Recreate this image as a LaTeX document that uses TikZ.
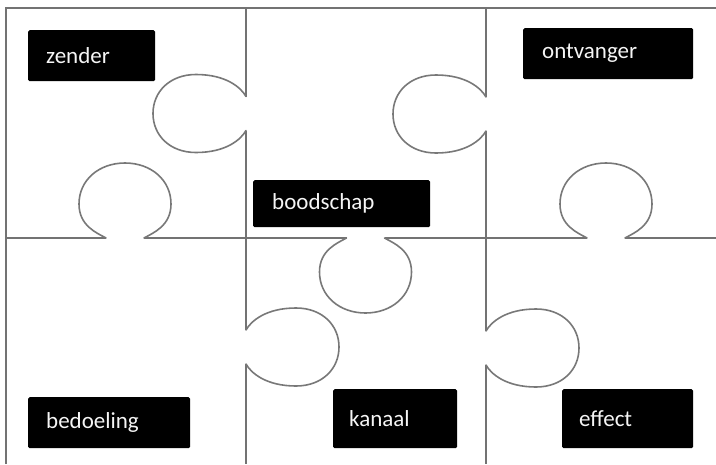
\documentclass[tikz,border=0pt]{standalone}
\usepackage{fontspec}
\setmainfont{Carlito}
\definecolor{edgegray}{RGB}{115,115,115}
\definecolor{knobgray}{RGB}{120,120,120}
\definecolor{lbltext}{RGB}{245,245,245}
\tikzset{
  frameline/.style={draw=edgegray, line width=1.8pt},
  knobline/.style={draw=knobgray, line width=1.6pt, line cap=round, line join=round},
  lbl/.style={fill=black, text=lbltext, rounded corners=1.5pt, anchor=north west,
    align=left, inner xsep=18pt, inner ysep=0pt, font=\fontsize{23}{26}\selectfont},
  hknob/.pic={\draw[knobline] (-19,0) .. controls (-28,-5) and (-46,-12) .. (-46,-34)
      .. controls (-46,-58) and (-26,-75) .. (0,-75)
      .. controls (26,-75) and (46,-58) .. (46,-34)
      .. controls (46,-12) and (28,-5) .. (19,0);},
  vknob/.pic={\draw[knobline] (-17,0) .. controls (-26,-5) and (-39,-20) .. (-39,-50)
      .. controls (-39,-76) and (-22,-93) .. (0,-93)
      .. controls (22,-93) and (39,-76) .. (39,-50)
      .. controls (39,-20) and (26,-5) .. (17,0);}
}
\begin{document}
\begin{tikzpicture}[x=1pt, y=-1pt]
\useasboundingbox[fill=white] (0,0) rectangle (716,464);
% frame
\draw[frameline] (6,464) -- (6,8) -- (716,8);
% horizontal divider
\draw[frameline] (6,238) -- (106,238);
\draw[frameline] (144,238) -- (346.5,238);
\draw[frameline] (384.5,238) -- (587,238);
\draw[frameline] (625,238) -- (716,238);
% vertical dividers
\draw[frameline] (246,8) -- (246,96.5);
\draw[frameline] (246,130.5) -- (246,330);
\draw[frameline] (246,364) -- (246,464);
\draw[frameline] (486,8) -- (486,97);
\draw[frameline] (486,131) -- (486,331);
\draw[frameline] (486,365) -- (486,464);
% knobs
\pic[rotate=0] at (125,238) {hknob};
\pic[rotate=0] at (606,238) {hknob};
\pic[rotate=180] at (365.5,238) {hknob};
\pic[rotate=90] at (246,113.5) {vknob};
\pic[rotate=90] at (486,114) {vknob};
\pic[rotate=-90] at (246,347) {vknob};
\pic[rotate=-90] at (486,348) {vknob};
% labels
\node[lbl, text width=91pt, minimum height=51pt] (zender) at (28,30) {zender};
\node[lbl, text width=132pt, minimum height=51pt, inner xsep=19pt] (ontvanger) at (523,28) {ontvanger};
\node[lbl, text width=139pt, minimum height=47pt, inner xsep=19pt] (boodschap) at (253,180) {boodschap};
\node[lbl, text width=126pt, minimum height=51pt] (bedoeling) at (28,397) {bedoeling};
\node[lbl, text width=92pt, minimum height=59pt, inner xsep=16pt] (kanaal) at (333,389) {kanaal};
\node[lbl, text width=97pt, minimum height=59pt, inner xsep=17pt] (effect) at (562,389) {effect};
\end{tikzpicture}
\end{document}
